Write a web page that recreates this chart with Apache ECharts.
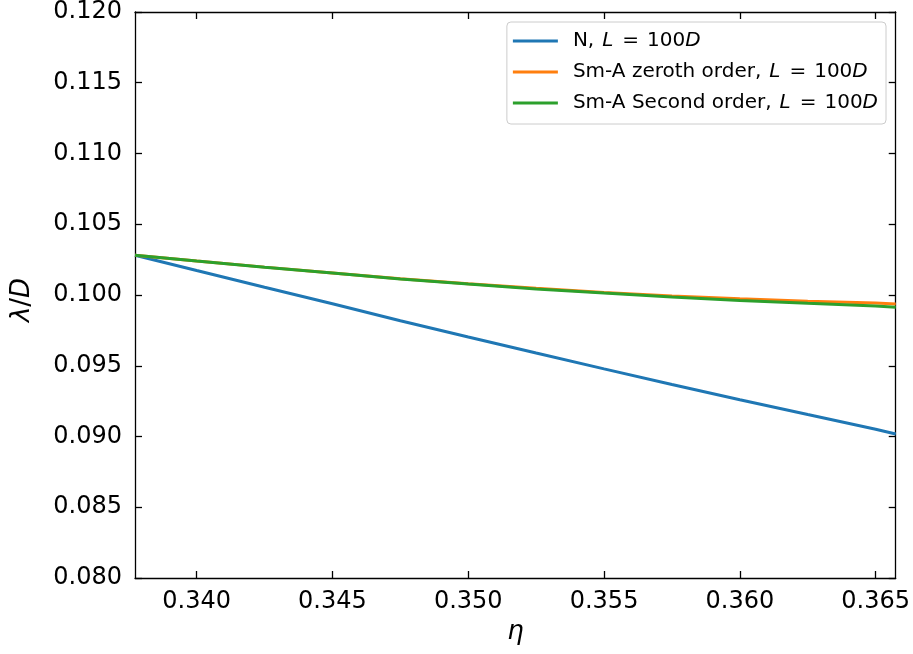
<!DOCTYPE html>
<html>
<head>
<meta charset="utf-8">
<style>
  html, body { margin: 0; padding: 0; background: #fff; }
  #chart-container { width: 913px; height: 654px; }
</style>
<script src="https://cdn.jsdelivr.net/npm/echarts@6/dist/echarts.min.js"></script>
</head>
<body>
<div id="chart-container"></div>
<script>
// eta values (x) and lambda/D values (y)
var etaValues = [0.33773, 0.3400, 0.3425, 0.3450, 0.3475, 0.3500, 0.3525, 0.3550, 0.3575, 0.3600, 0.3625, 0.3650, 0.36574];
var lambdaN = [0.10281, 0.10173, 0.10055, 0.09938, 0.09818, 0.09703, 0.09590, 0.09478, 0.09368, 0.09260, 0.09155, 0.09051, 0.09018];
var lambdaZeroth = [0.10281, 0.10240, 0.10197, 0.10156, 0.10115, 0.10080, 0.10047, 0.10018, 0.09993, 0.09973, 0.09956, 0.09943, 0.09937];
var lambdaSecond = [0.10281, 0.10240, 0.10196, 0.10155, 0.10113, 0.10077, 0.10043, 0.10014, 0.09986, 0.09962, 0.09941, 0.09922, 0.09914];

var xTicks = [0.340, 0.345, 0.350, 0.355, 0.360, 0.365];
var yTicks = [0.080, 0.085, 0.090, 0.095, 0.100, 0.105, 0.110, 0.115, 0.120];

var seriesNames = [
    'N,{i|L}{eq|=}100{d|D}',
    'Sm-A zeroth order,{i|L}{eq|=}100{d|D}',
    'Sm-A Second order,{i|L}{eq|=}100{d|D}'
];
var seriesColors = ['#1f77b4', '#ff7f0e', '#2ca02c'];

function pairs(xs, ys) {
    return xs.map(function (x, i) { return [x, ys[i]]; });
}

var font = 'DejaVu Sans';
var tickFont = 24;
var legendFont = 20;

var dom = document.getElementById('chart-container');
var myChart = echarts.init(dom, null, { renderer: 'canvas' });

var axisLine = { show: true, onZero: false, lineStyle: { color: '#000', width: 1.3 } };
var tickStyle = { color: '#000', width: 1.3 };

var option = {
    animation: false,
    backgroundColor: '#fff',
    grid: { left: 135, right: 17, top: 11, bottom: 76 },
    legend: {
        orient: 'vertical',
        right: 27,
        top: 22,
        padding: [8, 8, 10, 6],
        itemGap: 9,
        itemWidth: 45,
        itemHeight: 3,
        icon: 'rect',
        backgroundColor: 'rgba(255,255,255,0.8)',
        borderColor: '#cccccc',
        borderWidth: 1,
        borderRadius: 4,
        data: seriesNames,
        textStyle: {
            fontFamily: font,
            fontSize: legendFont,
            color: '#000',
            padding: [0, 0, 0, 10],
            lineHeight: 22,
            rich: {
                i: { fontFamily: font, fontSize: legendFont, fontStyle: 'italic', color: '#000', padding: [0, 0, 0, 8] },
                eq: { fontFamily: font, fontSize: legendFont, color: '#000', padding: [0, 8, 0, 9] },
                d: { fontFamily: font, fontSize: legendFont, fontStyle: 'italic', color: '#000' }
            }
        }
    },
    xAxis: [
        {
            type: 'value',
            position: 'bottom',
            min: etaValues[0],
            max: etaValues[etaValues.length - 1],
            name: 'η',
            nameLocation: 'middle',
            nameGap: 40,
            nameTextStyle: { fontFamily: font, fontSize: 26, fontStyle: 'italic', color: '#000' },
            axisLine: axisLine,
            axisTick: { show: true, inside: true, length: 7, lineStyle: tickStyle, customValues: xTicks },
            axisLabel: {
                show: true, margin: 12, fontFamily: font, fontSize: tickFont, color: '#000',
                customValues: xTicks,
                formatter: function (v) { return v.toFixed(3); }
            },
            splitLine: { show: false }
        },
        {
            type: 'value',
            position: 'top',
            min: etaValues[0],
            max: etaValues[etaValues.length - 1],
            axisLine: axisLine,
            axisTick: { show: true, inside: true, length: 7, lineStyle: tickStyle, customValues: xTicks },
            axisLabel: { show: false },
            splitLine: { show: false }
        }
    ],
    yAxis: [
        {
            type: 'value',
            position: 'left',
            min: 0.080,
            max: 0.120,
            name: '{i|λ}/{i|D}',
            nameLocation: 'middle',
            nameGap: 100,
            nameTextStyle: {
                fontFamily: font, fontSize: 26, color: '#000',
                padding: [0, 10, 0, 0],
                rich: { i: { fontFamily: font, fontSize: 26, fontStyle: 'italic', color: '#000' } }
            },
            axisLine: axisLine,
            axisTick: { show: true, inside: true, length: 7, lineStyle: tickStyle, customValues: yTicks },
            axisLabel: {
                show: true, margin: 13, fontFamily: font, fontSize: tickFont, color: '#000',
                customValues: yTicks,
                formatter: function (v) { return v.toFixed(3); }
            },
            splitLine: { show: false }
        },
        {
            type: 'value',
            position: 'right',
            min: 0.080,
            max: 0.120,
            axisLine: axisLine,
            axisTick: { show: true, inside: true, length: 7, lineStyle: tickStyle, customValues: yTicks },
            axisLabel: { show: false },
            splitLine: { show: false }
        }
    ],
    series: [
        {
            name: seriesNames[0],
            type: 'line',
            symbol: 'none',
            data: pairs(etaValues, lambdaN),
            lineStyle: { color: seriesColors[0], width: 3 },
            itemStyle: { color: seriesColors[0] }
        },
        {
            name: seriesNames[1],
            type: 'line',
            symbol: 'none',
            data: pairs(etaValues, lambdaZeroth),
            lineStyle: { color: seriesColors[1], width: 3 },
            itemStyle: { color: seriesColors[1] }
        },
        {
            name: seriesNames[2],
            type: 'line',
            symbol: 'none',
            data: pairs(etaValues, lambdaSecond),
            lineStyle: { color: seriesColors[2], width: 3 },
            itemStyle: { color: seriesColors[2] }
        }
    ]
};

myChart.setOption(option);
window.addEventListener('resize', myChart.resize);
</script>
</body>
</html>
